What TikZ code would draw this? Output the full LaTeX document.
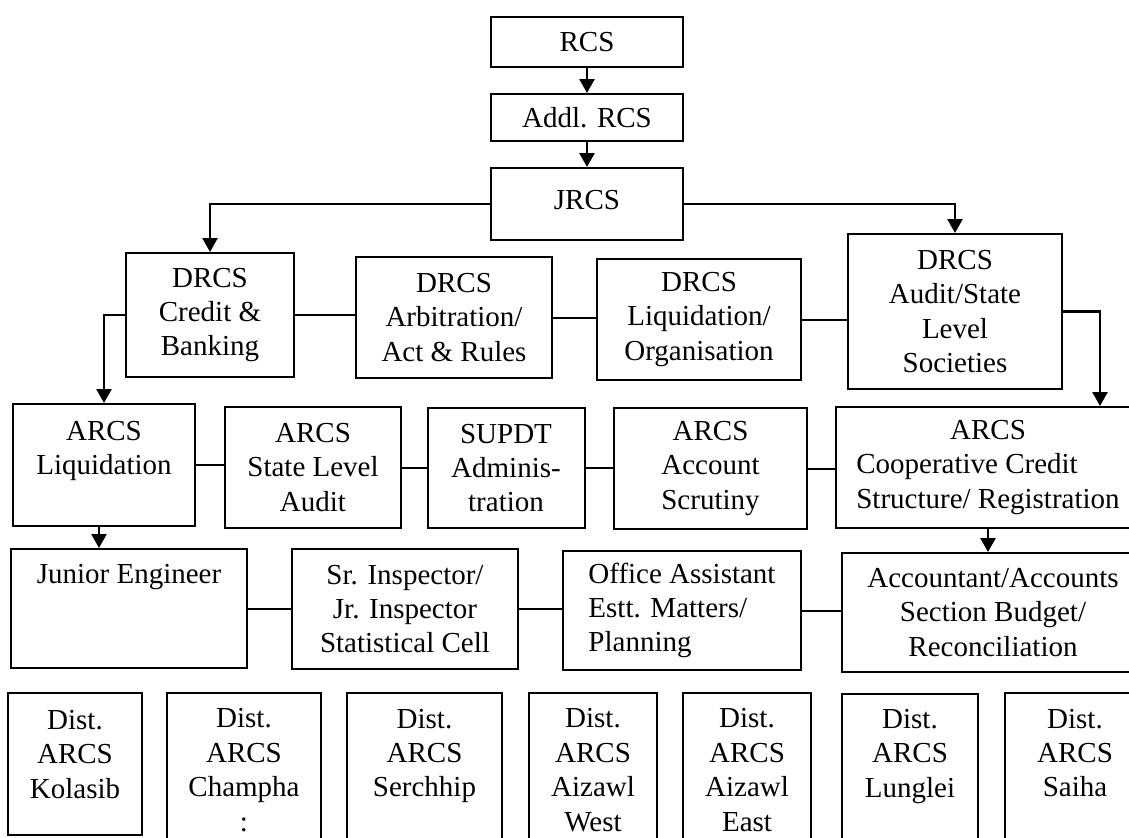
\documentclass[tikz,border=0pt]{standalone}
\usepackage{fontspec}
\setmainfont{Liberation Serif}
\usetikzlibrary{arrows.meta,positioning}
\tikzset{box/.style={draw,line width=1pt,inner sep=0pt,align=center,font=\fontsize{14.5pt}{17.2pt}\selectfont}, sz/.style 2 args={minimum width=#1,minimum height=#2}, arr/.style={-{Triangle[length=7pt,width=7.5pt]},line width=1.3pt}, link/.style={line width=1pt}}

\begin{document}
\begin{tikzpicture}[x=0.5pt,y=-0.5pt]
\useasboundingbox (0,0) rectangle (1129,837);
\node[box,sz={96pt}{25pt}] (rcs) at (587,42) {RCS};
\node[box,sz={96pt}{23.5pt}] (addl) at (587,117.5) {Addl. RCS};
\node[box,sz={96pt}{36pt}] (jrcs) at (587,204) {\raisebox{4pt}{JRCS}};
\node[box,sz={84pt}{62pt}] (credit) at (210,315) {DRCS\\Credit \&\\Banking};
\node[box,sz={98pt}{60.5pt}] (arbit) at (454,317.5) {DRCS\\Arbitration/\\Act \& Rules};
\node[box,sz={102pt}{60.5pt}] (liqorg) at (699,319.5) {DRCS\\Liquidation/\\Organisation};
\node[box,sz={107pt}{77.5pt}] (audit) at (955,311.5) {DRCS\\Audit/State\\Level\\Societies};
\node[box,sz={91pt}{61pt}] (arcsliq) at (104,465) {ARCS\\Liquidation\\~};
\node[box,sz={88pt}{60.5pt}] (sla) at (313,467.5) {ARCS\\State Level\\Audit};
\node[box,sz={78.5pt}{60pt}] (supdt) at (506,468) {SUPDT\\Adminis-\\tration};
\node[box,sz={96.5pt}{60.5pt}] (scrut) at (710.5,468.5) {ARCS\\Account\\Scrutiny};
\node[box,sz={152pt}{60.5pt}] (coop) at (988,467.5) {ARCS\\\rlap{Cooperative Credit}\phantom{Structure/ Registration}\\Structure/ Registration};
\node[box,sz={118pt}{59.5pt}] (je) at (129,608.5) {Junior Engineer\\~\\~};
\node[box,sz={113pt}{60pt}] (insp) at (405,609) {Sr. Inspector/\\Jr. Inspector\\Statistical Cell};
\node[box,sz={119pt}{59.5pt},align=left] (oa) at (682,610.5) {Office Assistant\\Estt. Matters/\\Planning};
\node[box,sz={151pt}{59.5pt}] (acct) at (993,612.5) {Accountant/Accounts\\Section Budget/\\Reconciliation};
% districts
\node[box,sz={67pt}{71pt}] (kolasib) at (75,764) {\rule{0pt}{17pt}Dist.\\ARCS\\Kolasib\\~};
\node[box,sz={77pt}{77pt}] (champhai) at (244,770) {Dist.\\ARCS\\Champha\\:};
\node[box,sz={77.5pt}{77pt}] (serchhip) at (424.5,770) {Dist.\\ARCS\\Serchhip\\~};
\node[box,sz={64pt}{77pt}] (azwest) at (593,770) {Dist.\\ARCS\\Aizawl\\West};
\node[box,sz={64pt}{77pt}] (azeast) at (747,770) {Dist.\\ARCS\\Aizawl\\East};
\node[box,sz={68pt}{76.5pt}] (lunglei) at (910,770.5) {Dist.\\ARCS\\Lunglei\\~};
\node[box,sz={70pt}{77pt}] (saiha) at (1075,770) {Dist.\\ARCS\\Saiha\\~};
\draw[arr] (rcs)--(addl); \draw[arr] (addl)--(jrcs);
\draw[arr] (jrcs.west)-|(credit.north); \draw[arr] (jrcs.east)-|(audit.north);
\draw[link] (credit.east)--(credit.east-|arbit.west); \draw[link] (arbit.east)--(arbit.east-|liqorg.west); \draw[link] (liqorg.east)--(liqorg.east-|audit.west);
\draw[arr] (credit.west)-|(arcsliq.north); \draw[arr] (audit.east)-|([xshift=56pt]coop.north);
\draw[link] (arcsliq.east)--(arcsliq.east-|sla.west); \draw[link] (sla.east)--(sla.east-|supdt.west); \draw[link] (supdt.east)--(supdt.east-|scrut.west); \draw[link] (scrut.east)--(scrut.east-|coop.west);
\draw[arr] ([xshift=-2.5pt]arcsliq.south)--([xshift=-2.5pt]arcsliq.south|-je.north); \draw[arr] (coop.south)--(coop.south|-acct.north);
\draw[link] (je.east)--(je.east-|insp.west); \draw[link] (insp.east)--(insp.east-|oa.west); \draw[link] (oa.east)--(oa.east-|acct.west);
\end{tikzpicture}
\end{document}
